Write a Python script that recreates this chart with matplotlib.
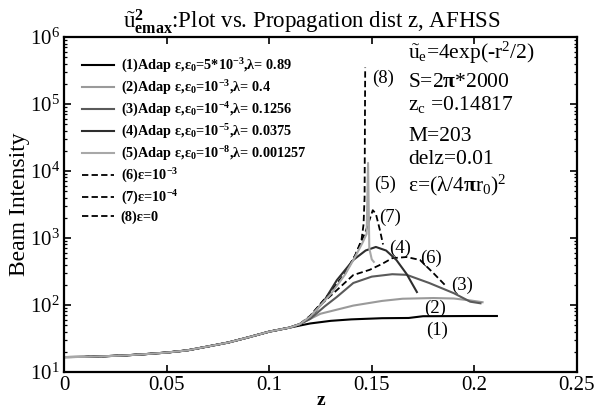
import numpy as np
import matplotlib
matplotlib.use('Agg')
import matplotlib.pyplot as plt
from matplotlib.ticker import LogLocator, NullFormatter

plt.rc('font', family='Liberation Serif')
plt.rc('mathtext', fontset='custom', rm='Liberation Serif', it='Liberation Serif:italic',
       bf='Liberation Serif:bold')

# shared part of all curves (before they split)
z_common = [0.0, 0.01, 0.02, 0.03, 0.04, 0.05, 0.06, 0.07, 0.08, 0.09, 0.10, 0.11]
u_common = [16.7, 16.8, 17.2, 17.7, 18.5, 19.5, 21.0, 24.0, 27.5, 33.0, 40.0, 46.0]

# per-curve tails
z1 = [0.12, 0.13, 0.14, 0.155, 0.168, 0.175, 0.20, 0.211]
u1 = [53, 58, 61, 63.5, 64, 68, 68.5, 68.5]
z2 = [0.115, 0.125, 0.141, 0.155, 0.165, 0.18, 0.19, 0.198, 0.204]
u2 = [52, 74, 98, 115, 124, 127, 125, 117, 110]
z3 = [0.115, 0.12, 0.127, 0.133, 0.141, 0.15, 0.16, 0.167, 0.178, 0.19, 0.198, 0.203]
u3 = [52, 62, 95, 132, 213, 265, 288, 282, 213, 150, 112, 106]
z4 = [0.115, 0.12, 0.127, 0.133, 0.141, 0.147, 0.152, 0.157, 0.162, 0.167, 0.172]
u4 = [52, 66, 118, 235, 470, 650, 735, 650, 470, 290, 156]
z5 = [0.115, 0.12, 0.13, 0.137, 0.142, 0.1455, 0.1475, 0.1482, 0.1488, 0.150, 0.151]
u5 = [52, 67, 145, 285, 530, 850, 1150, 13200, 700, 480, 440]
z6 = [0.115, 0.12, 0.125, 0.133, 0.141, 0.149, 0.155, 0.16, 0.167, 0.1735, 0.18, 0.1866]
u6 = [52, 64, 100, 167, 280, 335, 410, 500, 520, 470, 300, 186]
z7 = [0.115, 0.12, 0.13, 0.137, 0.142, 0.145, 0.147, 0.149, 0.1505, 0.152, 0.154, 0.1555]
u7 = [52, 68, 155, 295, 550, 900, 1250, 1900, 2600, 2300, 1300, 800]
z8 = [0.115, 0.12, 0.13, 0.137, 0.142, 0.145, 0.146, 0.1465, 0.1468]
u8 = [52, 69, 157, 300, 560, 930, 1600, 4000, 350000]

xticks = [0, 0.05, 0.1, 0.15, 0.2, 0.25]
xticklabels = ['0', '0.05', '0.1', '0.15', '0.2', '0.25']

labels = [r'(1)Adap ε,ε$_\mathbf{0}$=5*10$^{\mathbf{-3}}$,λ= 0.89',
          r'(2)Adap ε,ε$_\mathbf{0}$=10$^{\mathbf{-3}}$,λ= 0.4',
          r'(3)Adap ε,ε$_\mathbf{0}$=10$^{\mathbf{-4}}$,λ= 0.1256',
          r'(4)Adap ε,ε$_\mathbf{0}$=10$^{\mathbf{-5}}$,λ= 0.0375',
          r'(5)Adap ε,ε$_\mathbf{0}$=10$^{\mathbf{-8}}$,λ= 0.001257',
          r'(6)ε=10$^{\mathbf{-3}}$',
          r'(7)ε=10$^{\mathbf{-4}}$',
          r'(8)ε=0']

# curve tags: (text, z, value)
tags = [('(1)', 0.1818, 42), ('(2)', 0.1808, 90), ('(3)', 0.194, 198), ('(4)', 0.1637, 710),
        ('(5)', 0.1565, 6300), ('(6)', 0.1788, 490), ('(7)', 0.1589, 2000), ('(8)', 0.1555, 2.4e5)]

styles = [dict(color='black', lw=1.5, ls='-'),
          dict(color='#9a9a9a', lw=1.5, ls='-'),
          dict(color='#5a5a5a', lw=1.5, ls='-'),
          dict(color='#2e2e2e', lw=1.5, ls='-'),
          dict(color='#a8a8a8', lw=1.5, ls='-'),
          dict(color='black', lw=1.3, ls=(0, (3.5, 1.8))),
          dict(color='black', lw=1.3, ls=(0, (3.5, 1.8))),
          dict(color='black', lw=1.3, ls=(0, (3.5, 1.8)))]

fig = plt.figure(figsize=(5.95, 4.09), dpi=100)
ax = fig.add_axes([0.1076, 0.0905, 0.862, 0.819])

tails = [(z1, u1), (z2, u2), (z3, u3), (z4, u4), (z5, u5), (z6, u6), (z7, u7), (z8, u8)]
order = [5, 6, 7, 0, 1, 2, 3, 4]
handles = [None] * 8
for i in order:
    zz, uu = tails[i]
    z = np.concatenate([z_common, zz])
    u = np.concatenate([u_common, uu])
    h, = ax.plot(z, u, label=labels[i], **styles[i])
    handles[i] = h

ax.set_yscale('log')
ax.set_xlim(0, 0.25)
ax.set_ylim(10, 1e6)
ax.set_xticks(xticks)
ax.set_xticklabels(xticklabels)
ax.yaxis.set_major_locator(LogLocator(base=10, numticks=10))
ax.yaxis.set_minor_locator(LogLocator(base=10, subs=np.arange(2, 10), numticks=10))
ax.yaxis.set_minor_formatter(NullFormatter())
ax.tick_params(which='both', direction='in', top=True, right=True, labelsize=15)
ax.tick_params(which='major', length=5, width=1.2, pad=3)
ax.tick_params(which='minor', length=2.5, width=0.9)
for s in ax.spines.values():
    s.set_linewidth(1.6)

ax.set_xlabel('z', fontsize=14, fontweight='bold', labelpad=-2)
ax.set_ylabel('Beam Intensity', fontsize=17, labelpad=0)

fig.text(0.524, 0.9315,
         r'$\tilde{\mathrm{u}}^{\mathbf{2}}_{\mathbf{emax}}$:Plot vs. Propagation dist z, AFHSS',
         ha='center', va='baseline', fontsize=16.5)

leg = ax.legend(handles=handles, loc='upper left', frameon=False,
                prop={'weight': 'bold', 'size': 10.3}, handlelength=2.2,
                labelspacing=0.26, borderaxespad=0.0, handletextpad=0.5,
                bbox_to_anchor=(0.024, 0.958))

for txt, zt, ut in tags:
    ax.text(zt, ut, txt, fontsize=13.5, ha='center', va='center')

info = [r'$\tilde{\mathrm{u}}_\mathrm{e}$=4exp(-r$^\mathrm{2}$/2)',
        r'S=2$\mathbf{\pi}$*2000',
        r'z$_\mathrm{c}$ =0.14817',
        'M=203',
        'delz=0.01',
        r'ε=(λ/4$\mathbf{\pi}$r$_\mathrm{0}$)$^\mathrm{2}$']
ys = [0.936, 0.851, 0.782, 0.689, 0.622, 0.540]
for t, yy in zip(info, ys):
    ax.text(0.6706, yy, t, transform=ax.transAxes, fontsize=15.5, va='baseline', ha='left')

fig.savefig('out.png', dpi=100)
